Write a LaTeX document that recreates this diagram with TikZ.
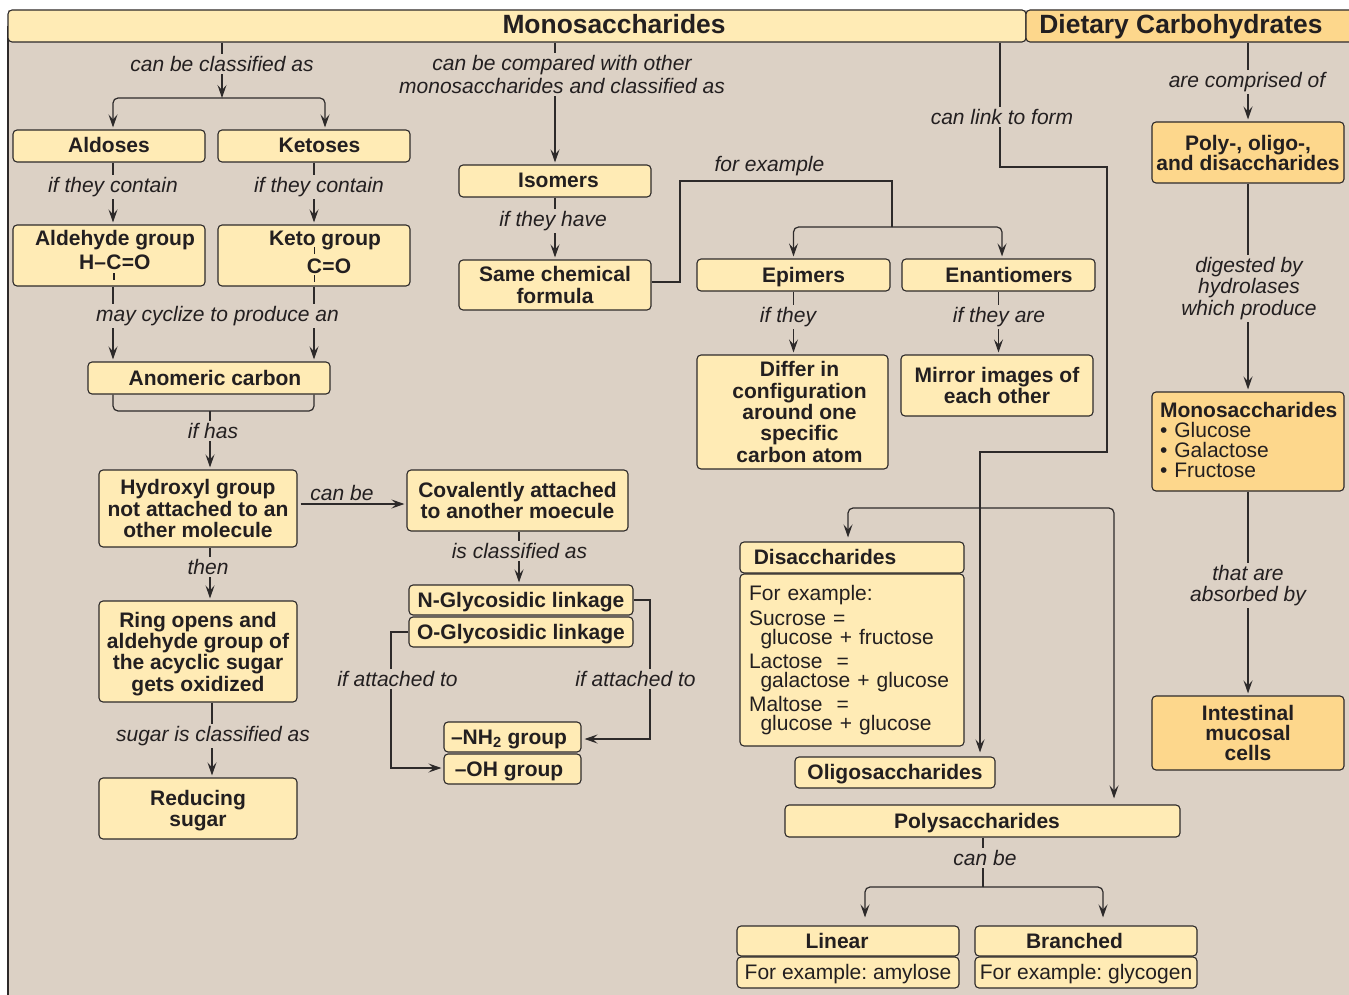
\documentclass[tikz,border=0pt]{standalone}
\usepackage{fontspec}
\setmainfont{Liberation Sans}
\usetikzlibrary{arrows.meta}
\frenchspacing
\definecolor{bgc}{RGB}{220,209,197}
\definecolor{ylw}{RGB}{255,235,181}
\definecolor{org}{RGB}{253,215,140}
\definecolor{linec}{RGB}{45,42,42}
\definecolor{txtc}{RGB}{35,31,32}
\newcommand{\bfs}{\fontsize{21}{21.3}\selectfont\bfseries}
\newcommand{\rgs}{\fontsize{21}{19}\selectfont}
\newcommand{\itfs}{\fontsize{21}{22}\selectfont\itshape}
\newcommand{\ttlfs}{\fontsize{26.4}{28}\selectfont\bfseries}
\begin{document}
\begin{tikzpicture}[x=1pt,y=-1pt,
  line/.style={draw=linec, line width=1.2pt},
  arr/.style={line, shorten >=2pt, -{Stealth[length=13pt,width=9pt,inset=5pt]}},
  box/.style={draw=linec, line width=1.1pt, fill=ylw, rounded corners=4pt, inner sep=0pt, align=center, font=\bfs, text=txtc},
  sbox/.style={box, text height=15pt, text depth=1pt},
  obox/.style={box, fill=org},
  ttl/.style={box, text height=19pt, text depth=4pt, font=\ttlfs},
  lbl/.style={font=\itfs, text=txtc, fill=bgc, inner sep=2pt, align=center},
  chem/.style={font=\bfs, text=txtc, inner sep=0pt},
  tick/.style={draw=txtc, line width=1.5pt},
]
\useasboundingbox (0,0) rectangle (1349,995);
\clip (0,0) rectangle (1349,995);
\fill[bgc] (8,10) rectangle (1360,1005);
\draw[line] (8,26) -- (8,1005);

% title bars
\node[ttl, minimum width=1018pt, minimum height=32pt] (monobar) at (517,26) {\hspace*{194pt}Monosaccharides};
\node[ttl, fill=org, minimum width=334pt, minimum height=32pt] (dietary) at (1193,26) {Dietary Carbohydrates\hspace*{24pt}};

% left column
\node[sbox, minimum width=192pt, minimum height=32pt] (aldoses) at (109,146) {Aldoses};
\node[sbox, minimum width=192pt, minimum height=32pt] (ketoses) at (314,146) {\hspace*{11pt}Ketoses};
\node[box, minimum width=192pt, minimum height=61pt] (aldehyde) at (109,255.5) {};
\node[box, minimum width=192pt, minimum height=61pt] (keto) at (314,255.5) {};
\node[chem, anchor=base] (aldtitle) at (115,245) {Aldehyde group};
\node[chem, anchor=base] (aldC) at (114,269) {C};
\node[chem, anchor=base east] (aldH) at (aldC.base west) {H–};
\node[chem, anchor=base west] (aldO) at (aldC.base east) {=O};
\draw[tick] ([yshift=-4pt]aldC.base) -- ++(0,7);
\node[chem, anchor=base] (ketotitle) at (325,245) {Keto group};
\node[chem, anchor=base] (ketC) at (314.5,273) {C};
\node[chem, anchor=base west] (ketO) at (ketC.base east) {=O};
\draw[tick] ([yshift=19pt]ketC.base) -- ++(0,-7);
\draw[tick] ([yshift=-2pt]ketC.base) -- ++(0,7);

\node[sbox, minimum width=242pt, minimum height=32pt] (anomeric) at (209,378) {\hspace*{12pt}Anomeric carbon};
\node[box, minimum width=198pt, minimum height=77pt] (hydroxyl) at (198,508.5) {Hydroxyl group\\not attached to an\\other molecule};
\node[box, minimum width=198pt, minimum height=101pt, text depth=0pt] (ring) at (198,651.5) {Ring opens and\\aldehyde group of\\the acyclic sugar\\gets oxidized};
\node[box, minimum width=198pt, minimum height=61pt, text depth=0pt] (reducing) at (198,808.5) {Reducing\\sugar};

% middle
\node[sbox, minimum width=192pt, minimum height=32pt] (isomers) at (555,181) {\hspace*{7pt}Isomers};
\node[box, minimum width=192pt, minimum height=50pt] (samechem) at (555,285) {Same chemical\\formula};
\node[sbox, minimum width=193pt, minimum height=32pt] (epimers) at (793.5,275) {\hspace*{20pt}Epimers};
\node[sbox, minimum width=193pt, minimum height=32pt] (enantiomers) at (998.5,275) {\hspace*{21pt}Enantiomers};
\node[box, minimum width=191pt, minimum height=114pt] (differ) at (792.5,412) {\hspace*{14pt}Differ in\\\hspace*{14pt}configuration\\\hspace*{14pt}around one\\\hspace*{14pt}specific\\\hspace*{14pt}carbon atom};
\node[box, minimum width=192pt, minimum height=61pt] (mirror) at (997,385.5) {Mirror images of\\each other};
\node[box, minimum width=221pt, minimum height=61pt] (covalent) at (517.5,500.5) {Covalently attached\\to another moecule};
\node[sbox, minimum width=224pt, minimum height=30pt] (nglyc) at (521,600) {N-Glycosidic linkage};
\node[sbox, minimum width=224pt, minimum height=30pt] (oglyc) at (521,632) {O-Glycosidic linkage};
\node[sbox, minimum width=137pt, minimum height=30pt] (nh2) at (512.5,737) {–NH\textsubscript{2} group\hspace*{7pt}};
\node[sbox, minimum width=137pt, minimum height=30pt] (oh) at (512.5,769) {–OH group\hspace*{7pt}};

% saccharides
\node[sbox, minimum width=224pt, minimum height=31pt] (disacch) at (852,557.5) {Disaccharides\hspace*{54pt}};
\node[box, minimum width=224pt, minimum height=172pt, inner xsep=9pt, text width=206pt, align=left, font=\rgs] (disbody) at (852,660) {For example:\\[5pt]Sucrose =\\\hspace*{11.5pt}glucose + fructose\\[5pt]Lactose\ \ =\\\hspace*{11.5pt}galactose + glucose\\[4pt]Maltose\ \ =\\\hspace*{11.5pt}glucose + glucose};
\node[sbox, minimum width=200pt, minimum height=31pt] (oligo) at (895,772.5) {Oligosaccharides};
\node[sbox, minimum width=395pt, minimum height=32pt] (polysacch) at (982.5,821) {Polysaccharides\hspace*{11pt}};
\node[sbox, minimum width=222pt, minimum height=30pt] (linear) at (848,941) {Linear\hspace*{22pt}};
\node[sbox, minimum width=222pt, minimum height=31pt, font=\fontsize{21}{21}\selectfont] (linbody) at (848,972.5) {For example: amylose};
\node[sbox, minimum width=222pt, minimum height=30pt] (branched) at (1086,941) {Branched\hspace*{23pt}};
\node[sbox, minimum width=222pt, minimum height=31pt, font=\fontsize{21}{21}\selectfont] (brbody) at (1086,972.5) {For example: glycogen};

% right column
\node[obox, minimum width=192pt, minimum height=61pt, font=\fontsize{21}{20}\selectfont\bfseries] (poly) at (1248,152.5) {Poly-, oligo-,\\and disaccharides};
\node[obox, minimum width=192pt, minimum height=99pt, inner xsep=8pt, text width=176pt, align=left, font=\fontsize{21}{20}\selectfont, text height=13pt] (monoright) at (1248,441.5) {\textbf{Monosaccharides}\\• Glucose\\• Galactose\\• Fructose};
\node[obox, minimum width=192pt, minimum height=74pt, font=\fontsize{21}{20}\selectfont\bfseries] (intestinal) at (1248,733) {Intestinal\\mucosal\\cells};

% connectors
\coordinate (sp1) at (222,98);
\draw[arr, shorten >=0pt] (monobar.south -| sp1) -- (sp1);
\draw[arr, rounded corners=5pt] (sp1) -| ([xshift=4pt]aldoses.north);
\draw[arr, rounded corners=5pt] (sp1) -| ([xshift=11pt]ketoses.north);
\draw[arr] ([xshift=4pt]aldoses.south) -- ([xshift=4pt]aldehyde.north);
\draw[arr] (ketoses.south) -- (keto.north);
\draw[arr] ([xshift=4pt]aldehyde.south) -- ([xshift=4pt]aldehyde.south |- anomeric.north);
\draw[arr] (keto.south) -- (keto.south |- anomeric.north);
\coordinate (brC) at (210,411);
\draw[line, rounded corners=5pt] ([xshift=4pt]aldehyde.south |- anomeric.south) |- (brC) -| (keto.south |- anomeric.south);
\draw[arr] (brC) -- (brC |- hydroxyl.north);
\draw[arr, shorten <=3pt] ([yshift=4.5pt]hydroxyl.east) -- ([yshift=4.5pt]hydroxyl.east -| covalent.west);
\draw[arr] (hydroxyl.south -| brC) -- (ring.north -| brC);
\coordinate (rx) at (212,0);
\draw[arr] (ring.south -| rx) -- (reducing.north -| rx);
\coordinate (cx) at (519,0);
\draw[arr] (covalent.south -| cx) -- (nglyc.north -| cx);
\coordinate (nR) at (650,739);
\draw[arr, shorten >=3pt] (nglyc.east) -| (nR) -- (nR -| nh2.east);
\coordinate (oL) at (391,768);
\draw[arr] (oglyc.west) -| (oL) -- (oL -| oh.west);

\draw[arr] (monobar.south -| isomers.north) -- (isomers.north);
\draw[arr] (isomers.south) -- (samechem.north);
\coordinate (fe1) at (680,181);
\coordinate (fe2) at (892,227);
\draw[line] ([yshift=3pt]samechem.east) -| (fe1) -| (fe2);
\draw[arr, rounded corners=5pt] (fe2) -| (epimers.north);
\draw[arr, rounded corners=5pt] (fe2) -| ([xshift=3.5pt]enantiomers.north);
\draw[arr] (epimers.south) -- (differ.north -| epimers.south);
\draw[arr] (enantiomers.south) -- (mirror.north -| enantiomers.south);

\coordinate (lk1) at (1000,167);
\coordinate (lk2) at (1107,452);
\coordinate (lk3) at (980,508);
\draw[line] (monobar.south -| lk1) -- (lk1) -| (lk2) -| (lk3);
\draw[arr, shorten >=4pt] (lk3) -- (lk3 |- oligo.north);
\draw[arr, rounded corners=5pt, shorten >=4pt] (lk3) -| ([xshift=-4pt]disacch.north);
\coordinate (psx) at (1114,0);
\draw[arr, rounded corners=5pt, shorten >=6pt] (lk3) -| (polysacch.north -| psx);

\draw[arr] (dietary.south -| poly.north) -- (poly.north);
\draw[arr] (poly.south) -- (monoright.north);
\draw[arr] (monoright.south) -- (intestinal.north);

\coordinate (pc) at (983,887);
\draw[line] (polysacch.south -| pc) -- (pc);
\draw[arr, rounded corners=5pt, shorten >=8pt] (pc) -| ([xshift=17pt]linear.north);
\draw[arr, rounded corners=5pt, shorten >=8pt] (pc) -| ([xshift=17pt]branched.north);

% labels
\node[lbl] (l1) at (222,64) {can be classified as};
\node[lbl, font=\fontsize{21}{23}\selectfont\itshape] (l2) at (562,74.5) {can be compared with other\\monosaccharides and classified as};
\node[lbl] (l3) at (1002,117) {can link to form};
\node[lbl] (l4) at (1247,82) {are comprised of};
\node[lbl] (l5) at (113,187) {if they contain};
\node[lbl] (l6) at (319,187) {if they contain};
\node[lbl] (l7) at (217.5,316) {may cyclize to produce an};
\node[lbl] (l8) at (213,431) {if has};
\node[lbl, fill=none] (l9) at (342,493) {can be};
\node[lbl] (l10) at (208,567) {then};
\node[lbl] (l11) at (213,736) {sugar is classified as};
\node[lbl] (l12) at (519.5,551) {is classified as};
\node[lbl] (l13) at (397.5,679) {if attached to};
\node[lbl] (l14) at (635.5,679) {if attached to};
\node[lbl] (l15) at (553,221) {if they have};
\node[lbl, fill=none] (l16) at (769.5,166) {for example};
\node[lbl] (l17) at (788,317) {if they};
\node[lbl] (l18) at (999,317) {if they are};
\node[lbl, font=\fontsize{21}{21.5}\selectfont\itshape] (l19) at (1249,288.5) {digested by\\hydrolases\\which produce};
\node[lbl, font=\fontsize{21}{21}\selectfont\itshape] (l20) at (1248,585.5) {that are\\absorbed by};
\node[lbl] (l21) at (985,858) {can be};
\end{tikzpicture}
\end{document}
